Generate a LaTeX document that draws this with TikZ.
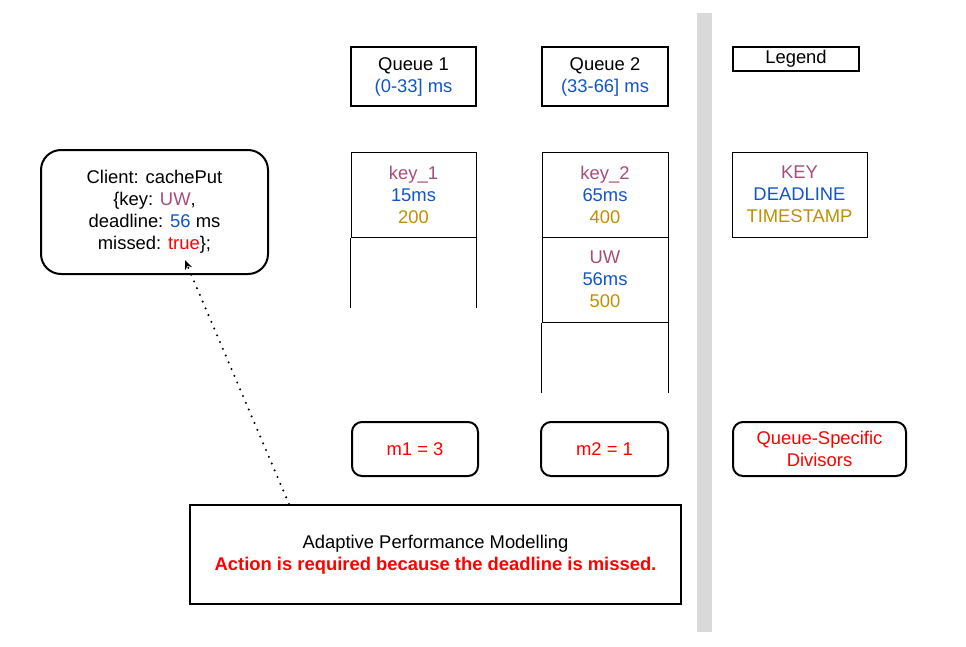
\documentclass[tikz,border=0pt]{standalone}
\usepackage{fontspec}
\setmainfont{Liberation Sans}
\usetikzlibrary{arrows.meta}
\definecolor{keyc}{HTML}{A64D79}
\definecolor{deadc}{HTML}{1155CC}
\definecolor{tsc}{HTML}{BF9000}
\definecolor{missc}{HTML}{FF0000}
\definecolor{barc}{HTML}{D9D9D9}
\tikzset{
  every node/.style={font=\fontsize{13.8pt}{16.5pt}\selectfont, align=center, inner sep=0pt,
    execute at begin node={\vspace*{3.5pt}}},
  header/.style={draw, line width=1.5pt, minimum height=44.25pt},
  cell/.style={draw, line width=0.75pt, minimum height=63.75pt},
  divbox/.style={draw, line width=1.5pt, rounded corners=7.5pt, minimum height=40.5pt},
}
\begin{document}
\begin{tikzpicture}[x=0.75pt, y=-0.75pt, line width=0.75pt]
                    \useasboundingbox (0,0) rectangle (966,646);
                    % separator
                    \fill [barc](697,13) rectangle (712,632);
                    % client request
                    \node [draw, line width=1.5pt, rounded corners=15pt, minimum width=170.25pt, minimum height=93pt] (client) at (154.5,212)
                        {Client: cachePut\\\{key: \textcolor{keyc}{UW},\\deadline: \textcolor{deadc}{56} ms\\missed: \textcolor{missc}{true}\};};
                    % queue headers
                    \node [header, minimum width=93.75pt] (q1head) at (413.5,76.5) {Queue 1\\\textcolor{deadc}{(0-33] ms}};
                    \node [header, minimum width=94.5pt] (q2head) at (605,76.5) {Queue 2\\\textcolor{deadc}{(33-66] ms}};
                    % queue entries
                    \node [cell, minimum width=93.75pt] (q1a) at (413.5,194.5) {\textcolor{keyc}{key\_1}\\\textcolor{deadc}{15ms}\\\textcolor{tsc}{200}};
                    \node [cell, minimum width=94.5pt] (q2a) at (605,194.5) {\textcolor{keyc}{key\_2}\\\textcolor{deadc}{65ms}\\\textcolor{tsc}{400}};
                    \node [cell, minimum width=94.5pt] (q2b) at (605,279.5) {\textcolor{keyc}{UW}\\\textcolor{deadc}{56ms}\\\textcolor{tsc}{500}};
                    \draw (q1a.south west)--++(0,70);
                    \draw (q1a.south east)--++(0,70);
                    \draw (q2b.south west)--++(0,70);
                    \draw (q2b.south east)--++(0,70);
                    % divisors
                    \node [divbox, minimum width=94.5pt] (m1) at (415,449) {\textcolor{missc}{m1 = 3}};
                    \node [divbox, minimum width=95.25pt] (m2) at (604.5,449) {\textcolor{missc}{m2 = 1}};
                    % legend
                    \node [draw, line width=1.5pt, minimum width=94.5pt, minimum height=18pt] (legend) at (796,59) {Legend};
                    \node [cell, minimum width=101.25pt] (legkey) at (799.5,194.5) {\textcolor{keyc}{KEY}\\\textcolor{deadc}{DEADLINE}\\\textcolor{tsc}{TIMESTAMP}};
                    \node [divbox, minimum width=129.75pt] (legdiv) at (819.5,449) {\textcolor{missc}{Queue-Specific}\\\textcolor{missc}{Divisors}};
                    % performance model
                    \node [draw, line width=1.5pt, minimum width=368.25pt, minimum height=74.25pt] (apm) at (435.5,554.5)
                        {Adaptive Performance Modelling\\\textcolor{missc}{\bfseries Action is required because the deadline is missed.}};
                    \draw [line width=1.7pt, line cap=round, dash pattern=on 0pt off 5.5pt, -{Stealth[length=7pt, width=5.5pt]}]
                        ([xshift=75pt]apm.north west)--([xshift=108.75pt, yshift=11.25pt]client.south west);
                \end{tikzpicture}
\end{document}
